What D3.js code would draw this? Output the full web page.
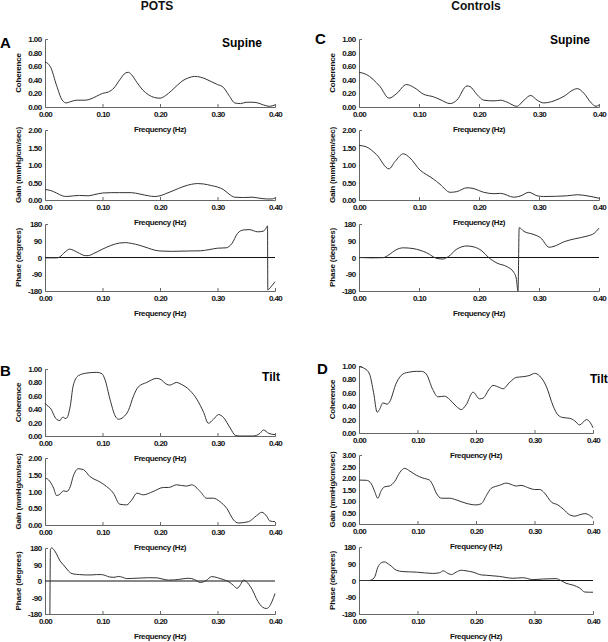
<!DOCTYPE html>
<html><head><meta charset="utf-8">
<script src="https://cdn.jsdelivr.net/npm/d3@7"></script>
<style>
body{margin:0;background:#fff;}
svg{display:block;font-family:"Liberation Sans",Arial,sans-serif;font-weight:bold;}
</style></head><body>
<svg id="c" width="608" height="642"></svg>
<script>
// ---- tick labels ----
const freqTicks = [0, 0.1, 0.2, 0.3, 0.4];
const cohTicks = [0, 0.2, 0.4, 0.6, 0.8, 1.0];
const gainTicks2 = [0, 0.5, 1.0, 1.5, 2.0];
const gainTicks3 = [0, 0.5, 1.0, 1.5, 2.0, 2.5, 3.0];
const phaseTicks = [-180, -90, 0, 90, 180];
const groupTitles = ["POTS", "Controls"];
const panelLetters = ["A", "B", "C", "D"];
const conditions = ["Supine", "Tilt", "Supine", "Tilt"];

// ---- series: [frequency (Hz), value] ----
const potsSupineCoh = [[0,0.66],[0.005,0.64],[0.01,0.58],[0.02,0.32],[0.03,0.10],[0.037,0.06],[0.045,0.08],[0.055,0.10],[0.07,0.10],[0.08,0.12],[0.09,0.16],[0.10,0.20],[0.11,0.22],[0.12,0.28],[0.13,0.40],[0.14,0.50],[0.145,0.51],[0.15,0.48],[0.16,0.36],[0.17,0.25],[0.18,0.18],[0.19,0.14],[0.20,0.13],[0.21,0.17],[0.22,0.24],[0.23,0.32],[0.24,0.39],[0.25,0.43],[0.26,0.45],[0.27,0.44],[0.28,0.41],[0.29,0.37],[0.30,0.33],[0.31,0.29],[0.32,0.17],[0.33,0.06],[0.34,0.05],[0.35,0.07],[0.36,0.07],[0.37,0.06],[0.38,0.03],[0.39,0.01],[0.40,0.03]];
const potsSupineGain = [[0,0.30],[0.01,0.27],[0.02,0.20],[0.03,0.12],[0.037,0.10],[0.05,0.12],[0.06,0.13],[0.075,0.12],[0.085,0.15],[0.10,0.20],[0.115,0.21],[0.13,0.21],[0.15,0.21],[0.165,0.17],[0.18,0.12],[0.19,0.10],[0.20,0.12],[0.21,0.18],[0.225,0.28],[0.24,0.38],[0.255,0.45],[0.265,0.47],[0.275,0.46],[0.29,0.41],[0.30,0.37],[0.31,0.30],[0.32,0.17],[0.33,0.08],[0.345,0.07],[0.36,0.08],[0.37,0.06],[0.385,0.03],[0.395,0.03],[0.40,0.06]];
const potsSupinePhase = [[0,-2],[0.02,-2],[0.025,2],[0.035,30],[0.043,45],[0.05,38],[0.06,22],[0.07,10],[0.075,10],[0.085,22],[0.10,45],[0.115,65],[0.13,78],[0.14,80],[0.15,76],[0.165,65],[0.18,50],[0.19,40],[0.20,35],[0.22,33],[0.25,35],[0.27,36],[0.285,42],[0.30,50],[0.315,52],[0.325,75],[0.335,130],[0.345,148],[0.355,150],[0.37,138],[0.38,142],[0.385,160],[0.387,170],[0.3875,-175],[0.39,-168],[0.395,-150],[0.40,-130]];

const potsTiltCoh = [[0,0.49],[0.003,0.46],[0.009,0.42],[0.02,0.25],[0.026,0.23],[0.029,0.27],[0.032,0.28],[0.035,0.26],[0.038,0.27],[0.044,0.45],[0.049,0.75],[0.058,0.90],[0.073,0.94],[0.09,0.95],[0.099,0.93],[0.104,0.85],[0.113,0.55],[0.122,0.30],[0.128,0.25],[0.136,0.28],[0.145,0.38],[0.154,0.60],[0.162,0.73],[0.177,0.80],[0.194,0.86],[0.20,0.85],[0.212,0.77],[0.217,0.76],[0.229,0.80],[0.235,0.78],[0.252,0.68],[0.264,0.55],[0.276,0.35],[0.284,0.19],[0.293,0.25],[0.302,0.32],[0.31,0.28],[0.322,0.12],[0.331,0.01],[0.339,0.0],[0.362,0.0],[0.374,0.04],[0.38,0.09],[0.389,0.04],[0.40,0.02]];
const potsTiltGain = [[0,1.40],[0.006,1.35],[0.015,1.10],[0.02,0.88],[0.026,0.92],[0.032,1.02],[0.038,1.00],[0.044,1.15],[0.049,1.45],[0.058,1.68],[0.067,1.65],[0.078,1.45],[0.096,1.28],[0.107,1.15],[0.119,0.95],[0.13,0.62],[0.142,0.60],[0.151,0.75],[0.16,0.95],[0.171,0.90],[0.188,1.00],[0.206,1.12],[0.215,1.12],[0.229,1.20],[0.246,1.16],[0.255,1.20],[0.27,1.00],[0.281,0.80],[0.293,0.80],[0.304,0.70],[0.316,0.50],[0.328,0.15],[0.336,0.06],[0.354,0.10],[0.368,0.28],[0.377,0.38],[0.386,0.25],[0.391,0.12],[0.40,0.10]];
const potsTiltPhase = [[0.0085,-180],[0.0095,175],[0.012,180],[0.016,168],[0.02,148],[0.026,110],[0.032,88],[0.038,65],[0.044,45],[0.05,38],[0.06,35],[0.07,33],[0.08,33],[0.09,35],[0.098,35],[0.105,30],[0.112,22],[0.12,20],[0.128,25],[0.135,20],[0.142,13],[0.15,14],[0.165,16],[0.18,18],[0.195,17],[0.205,10],[0.215,5],[0.225,6],[0.24,12],[0.25,15],[0.26,8],[0.27,-8],[0.28,2],[0.29,24],[0.30,18],[0.31,8],[0.32,-5],[0.328,-25],[0.334,-40],[0.34,-20],[0.345,5],[0.35,-3],[0.36,-45],[0.37,-110],[0.378,-142],[0.385,-150],[0.39,-140],[0.395,-110],[0.40,-68]];

const ctrlSupineCoh = [[0,0.51],[0.012,0.48],[0.035,0.30],[0.05,0.13],[0.063,0.20],[0.079,0.33],[0.093,0.28],[0.107,0.19],[0.124,0.15],[0.135,0.11],[0.152,0.05],[0.163,0.10],[0.18,0.31],[0.185,0.30],[0.197,0.18],[0.208,0.10],[0.225,0.09],[0.236,0.10],[0.247,0.07],[0.263,0.01],[0.275,0.10],[0.286,0.17],[0.297,0.10],[0.308,0.06],[0.325,0.09],[0.342,0.16],[0.359,0.26],[0.364,0.27],[0.375,0.20],[0.387,0.06],[0.395,0.01],[0.40,0.03]];
const ctrlSupineGain = [[0,1.56],[0.012,1.52],[0.029,1.30],[0.05,0.89],[0.06,1.10],[0.074,1.32],[0.085,1.20],[0.102,0.85],[0.113,0.72],[0.124,0.60],[0.135,0.45],[0.152,0.22],[0.163,0.24],[0.18,0.35],[0.19,0.33],[0.208,0.22],[0.225,0.18],[0.236,0.19],[0.258,0.08],[0.27,0.12],[0.283,0.22],[0.297,0.12],[0.308,0.10],[0.347,0.12],[0.364,0.15],[0.38,0.12],[0.40,0.05]];
const ctrlSupinePhase = [[0,0],[0.02,-2],[0.04,-1],[0.05,15],[0.062,42],[0.074,52],[0.09,48],[0.113,25],[0.13,-5],[0.14,-8],[0.149,5],[0.163,45],[0.18,62],[0.19,58],[0.205,35],[0.216,0],[0.23,-30],[0.247,-50],[0.258,-80],[0.262,-110],[0.265,-180],[0.267,160],[0.275,140],[0.29,125],[0.303,105],[0.317,55],[0.325,60],[0.342,85],[0.359,100],[0.38,115],[0.392,130],[0.40,158]];

const ctrlTiltCoh = [[0,0.99],[0.01,0.96],[0.018,0.88],[0.025,0.60],[0.031,0.31],[0.035,0.35],[0.041,0.45],[0.048,0.43],[0.052,0.46],[0.064,0.75],[0.075,0.88],[0.087,0.91],[0.098,0.92],[0.107,0.92],[0.115,0.88],[0.126,0.65],[0.135,0.54],[0.146,0.55],[0.155,0.50],[0.166,0.40],[0.175,0.35],[0.183,0.42],[0.195,0.61],[0.206,0.51],[0.212,0.52],[0.223,0.66],[0.229,0.71],[0.24,0.68],[0.246,0.66],[0.258,0.76],[0.269,0.83],[0.28,0.84],[0.292,0.86],[0.30,0.89],[0.309,0.85],[0.32,0.70],[0.332,0.40],[0.34,0.27],[0.349,0.23],[0.36,0.22],[0.369,0.18],[0.377,0.12],[0.389,0.20],[0.394,0.17],[0.40,0.08]];
const ctrlTiltGain = [[0,1.91],[0.013,1.90],[0.021,1.75],[0.027,1.40],[0.032,1.12],[0.038,1.45],[0.044,1.62],[0.052,1.65],[0.061,1.85],[0.07,2.25],[0.078,2.42],[0.087,2.30],[0.098,2.12],[0.109,2.00],[0.121,1.90],[0.126,1.70],[0.132,1.35],[0.141,1.12],[0.155,1.12],[0.166,1.05],[0.183,0.90],[0.20,0.83],[0.209,0.88],[0.218,1.25],[0.226,1.55],[0.24,1.68],[0.252,1.78],[0.26,1.72],[0.269,1.65],[0.277,1.68],[0.292,1.55],[0.30,1.50],[0.309,1.50],[0.317,1.35],[0.329,0.95],[0.34,0.83],[0.349,0.65],[0.36,0.40],[0.369,0.34],[0.377,0.40],[0.386,0.45],[0.394,0.38],[0.40,0.25]];
const ctrlTiltPhase = [[0,0],[0.018,0],[0.021,3],[0.027,20],[0.032,70],[0.038,95],[0.043,100],[0.052,85],[0.064,55],[0.075,48],[0.098,45],[0.126,38],[0.138,42],[0.144,52],[0.152,38],[0.158,32],[0.166,45],[0.175,55],[0.183,52],[0.195,45],[0.209,30],[0.218,28],[0.24,22],[0.263,12],[0.28,15],[0.297,5],[0.315,8],[0.337,10],[0.345,0],[0.354,-15],[0.366,-25],[0.377,-40],[0.386,-62],[0.394,-63],[0.40,-63]];

// ---- layout ----
const svg = d3.select("#c");
const TXT = "#111", AX = "#666", LINE = "#333";

const fmt2 = d3.format(".2f");
const panels = [
  // POTS supine (A)
  {x0:45,x1:275,y0:39,y1:107,dom:[0,1],ticks:cohTicks,fmt:fmt2,label:"Coherence",data:potsSupineCoh},
  {x0:45,x1:275,y0:130,y1:200,dom:[0,2],ticks:gainTicks2,fmt:fmt2,label:"Gain (mmHg/cm/sec)",data:potsSupineGain},
  {x0:45,x1:275,y0:224,y1:291,dom:[-180,180],ticks:phaseTicks,fmt:String,label:"Phase (degrees)",data:potsSupinePhase,zero:true},
  // POTS tilt (B)
  {x0:45,x1:275,y0:369,y1:436,dom:[0,1],ticks:cohTicks,fmt:fmt2,label:"Coherence",data:potsTiltCoh},
  {x0:45,x1:275,y0:458,y1:525,dom:[0,2],ticks:gainTicks2,fmt:fmt2,label:"Gain (mmHg/cm/sec)",data:potsTiltGain},
  {x0:45,x1:275,y0:548,y1:614,dom:[-180,180],ticks:phaseTicks,fmt:String,label:"Phase (degrees)",data:potsTiltPhase,zero:true},
  // Controls supine (C)
  {x0:359,x1:599,y0:39,y1:107,dom:[0,1],ticks:cohTicks,fmt:fmt2,label:"Coherence",data:ctrlSupineCoh},
  {x0:359,x1:599,y0:130,y1:200,dom:[0,2],ticks:gainTicks2,fmt:fmt2,label:"Gain (mmHg/cm/sec)",data:ctrlSupineGain},
  {x0:359,x1:599,y0:224,y1:291,dom:[-180,180],ticks:phaseTicks,fmt:String,label:"Phase (degrees)",data:ctrlSupinePhase,zero:true},
  // Controls tilt (D)
  {x0:359,x1:593,y0:366,y1:433,dom:[0,1],ticks:cohTicks,fmt:fmt2,label:"Coherence",data:ctrlTiltCoh},
  {x0:359,x1:593,y0:455,y1:524,dom:[0,3],ticks:gainTicks3,fmt:fmt2,label:"Gain (mmHg/cm/sec)",data:ctrlTiltGain},
  {x0:359,x1:593,y0:547,y1:614,dom:[-180,180],ticks:phaseTicks,fmt:String,label:"Phase (degrees)",data:ctrlTiltPhase,zero:true}
];

panels.forEach(p => {
  const x = d3.scaleLinear().domain([0, 0.4]).range([p.x0, p.x1]);
  const y = d3.scaleLinear().domain(p.dom).range([p.y1, p.y0]);
  const g = svg.append("g");

  // y axis
  const ya = g.append("g").attr("transform", `translate(${p.x0},0)`)
    .call(d3.axisLeft(y).tickValues(p.ticks).tickFormat(p.fmt)
      .tickSizeInner(0).tickSizeOuter(-3).tickPadding(3.5));
  // x axis
  const xa = g.append("g").attr("transform", `translate(0,${p.y1})`)
    .call(d3.axisBottom(x).tickValues(freqTicks).tickFormat(fmt2)
      .tickSizeInner(-3).tickSizeOuter(-3).tickPadding(4.3));
  [ya, xa].forEach(a => {
    a.select(".domain").attr("stroke", AX);
    a.selectAll(".tick line").attr("stroke", AX);
    a.selectAll("text").attr("fill", TXT).attr("font-size", 8)
      .attr("font-family", '"Liberation Sans",Arial,sans-serif')
      .attr("font-weight", "bold").style("letter-spacing", "-0.6px");
  });

  if (p.zero) {
    g.append("line").attr("x1", p.x0).attr("x2", p.x1)
      .attr("y1", y(0)).attr("y2", y(0))
      .attr("stroke", "#111").attr("stroke-width", 1);
  }

  g.append("path").datum(p.data)
    .attr("fill", "none").attr("stroke", LINE).attr("stroke-width", 1)
    .attr("d", d3.line().x(d => x(d[0])).y(d => y(d[1])).curve(d3.curveMonotoneX));

  // x label
  g.append("text").attr("x", (p.x0 + p.x1) / 2).attr("y", p.y1 + 24.5)
    .attr("text-anchor", "middle").attr("font-size", 8).attr("fill", TXT)
    .style("letter-spacing", "-0.4px").text("Frequency (Hz)");
  // y label
  g.append("text").attr("transform", `translate(${p.x0 - 27},${(p.y0 + p.y1) / 2}) rotate(-90)`)
    .attr("text-anchor", "middle").attr("dy", "0.35em").attr("font-size", 8)
    .attr("fill", TXT).style("letter-spacing", "-0.2px").text(p.label);
});

// group titles
svg.append("text").attr("x", 157).attr("y", 10).attr("text-anchor", "middle")
  .attr("font-size", 12).attr("fill", TXT).text(groupTitles[0]);
svg.append("text").attr("x", 476).attr("y", 10).attr("text-anchor", "middle")
  .attr("font-size", 12).attr("fill", TXT).text(groupTitles[1]);

// panel letters
const letterPos = [[0, 47.5], [0, 376], [315, 44], [317, 374]];
panelLetters.forEach((l, i) => {
  svg.append("text").attr("x", letterPos[i][0]).attr("y", letterPos[i][1])
    .attr("font-size", 15).attr("fill", "#000").text(l);
});

// condition labels
const condPos = [[242, 47, "middle"], [271, 381, "middle"], [570, 43.5, "middle"], [590, 383, "start"]];
conditions.forEach((c, i) => {
  svg.append("text").attr("x", condPos[i][0]).attr("y", condPos[i][1])
    .attr("text-anchor", condPos[i][2]).attr("font-size", 12).attr("fill", "#000").text(c);
});
</script>
</body></html>
